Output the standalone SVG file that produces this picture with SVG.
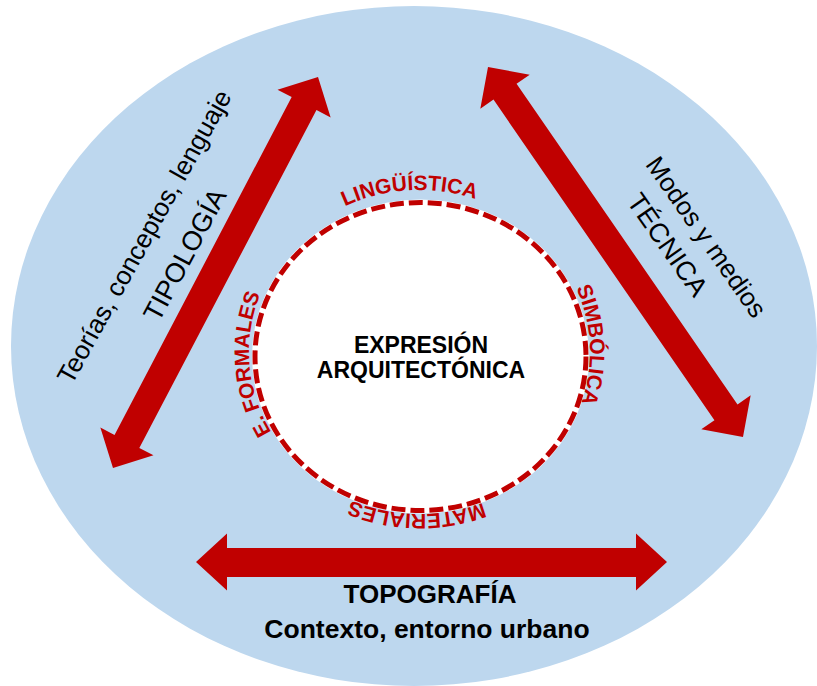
<svg xmlns="http://www.w3.org/2000/svg" xmlns:xlink="http://www.w3.org/1999/xlink" width="817" height="686" viewBox="0 0 817 686">
<style>
.arrow{fill:#C00000;}
.lbl{font-family:"Liberation Sans",Arial,sans-serif;fill:#000;}
.red{font-family:"Liberation Sans",Arial,sans-serif;fill:#C00000;font-size:21px;font-weight:bold;}
</style>
<defs>
<path id="ring" d="M 249,352 A 170.5,162 0 1,1 590,352 A 170.5,162 0 1,1 249,352 A 170.5,162 0 1,1 590,352 A 170.5,162 0 1,1 249,352"/>
</defs>
<g id="background">
<ellipse cx="414" cy="346" rx="403" ry="340" fill="#BDD7EE"/>
</g>
<g id="connectors">
<polygon class="arrow" transform="translate(215.5,272.5) rotate(-62.33)" points="-220.75,0 -190.75,-30 -190.75,-14 190.75,-14 190.75,-30 220.75,0 190.75,30 190.75,14 -190.75,14 -190.75,30"/>
<polygon class="arrow" transform="translate(615.5,252) rotate(55.43)" points="-224.7,0 -194.7,-30 -194.7,-14 194.7,-14 194.7,-30 224.7,0 194.7,30 194.7,14 -194.7,14 -194.7,30"/>
<polygon class="arrow" points="196,562 227,533.5 227,548 636,548 636,533.5 667,562 636,590.5 636,577 227,577 227,590.5"/>
</g>
<g id="center">
<ellipse cx="420.5" cy="356.5" rx="168.5" ry="157" fill="#FFFFFF"/>
<ellipse cx="420.5" cy="356.5" rx="165.5" ry="154" fill="none" stroke="#C00000" stroke-width="5" stroke-dasharray="14 5"/>
<text class="lbl" x="421" y="353" font-size="23" font-weight="bold" text-anchor="middle">EXPRESIÓN</text>
<text class="lbl" x="421" y="378" font-size="23" font-weight="bold" text-anchor="middle">ARQUITECTÓNICA</text>
</g>
<g id="ring-labels">
<text class="red" text-anchor="middle"><textPath xlink:href="#ring" startOffset="251">LINGÜÍSTICA</textPath></text>
<text class="red" text-anchor="middle"><textPath xlink:href="#ring" startOffset="515">SIMBÓLICA</textPath></text>
<text class="red" text-anchor="middle"><textPath xlink:href="#ring" startOffset="786">MATERIALES</textPath></text>
<text class="red" text-anchor="middle"><textPath xlink:href="#ring" startOffset="1032">E. FORMALES</textPath></text>
</g>
<g id="tipologia">
<text class="lbl" font-size="26" text-anchor="middle" transform="translate(152,241) rotate(-61)">Teorías, conceptos, lenguaje</text>
<text class="lbl" font-size="27" text-anchor="middle" transform="translate(193,259) rotate(-62)">TIPOLOGÍA</text>
</g>
<g id="tecnica">
<text class="lbl" font-size="26" text-anchor="middle" transform="translate(699,242) rotate(55)">Modos y medios</text>
<text class="lbl" font-size="27" text-anchor="middle" transform="translate(660,250) rotate(55)">TÉCNICA</text>
</g>
<g id="topografia">
<text class="lbl" x="430" y="603" font-size="26" font-weight="bold" text-anchor="middle">TOPOGRAFÍA</text>
<text class="lbl" x="427" y="638" font-size="26.5" font-weight="bold" text-anchor="middle">Contexto, entorno urbano</text>
</g>
</svg>
